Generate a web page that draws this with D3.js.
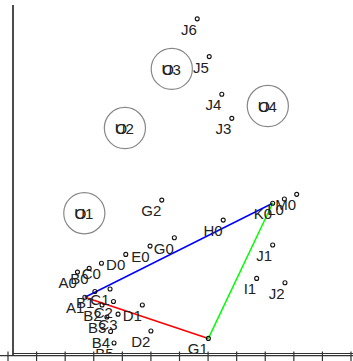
<!DOCTYPE html>
<html><head><meta charset="utf-8">
<script src="https://cdn.jsdelivr.net/npm/d3@7"></script>
<style>html,body{margin:0;padding:0;background:#fff;}svg{display:block;}</style>
</head><body>
<script>
// Point labels and coordinates (data units)
const labels = ["J6","J5","J4","J3","G2","G0","E0","D0","C0","B0","A0","H0","K0","L0","M0","J1","I1","J2","A1","B1","C1","B2","C2","B3","C3","B4","B5","D1","D2","G1"];
const xs =     [6.62,7.04,7.48,7.83,5.38,5.82,4.97,4.12,3.27,2.84,2.43,7.53,9.26,9.67,10.10,9.26,8.70,9.69,2.69,3.04,3.57,3.29,3.69,3.46,3.85,3.59,3.71,4.70,5.00,7.01];
const ys =     [11.76,10.44,9.12,8.28,5.42,4.10,3.81,3.52,3.21,3.03,2.90,4.72,5.31,5.46,5.62,3.85,2.68,2.53,2.02,2.22,2.31,1.75,1.87,1.33,1.43,0.82,0.42,1.75,0.84,0.58];
// Ringed cluster centres (two overlapping labels each)
const ringLabels = ["U1","U2","U3","U4"];
const ringAlt    = ["O1","O2","O3","O4"];
const ringX = [2.67,4.09,5.73,9.09];
const ringY = [4.96,7.94,10.01,8.71];
const ringR = 0.72;
// Triangle edges
const edges = [["A1","K0","#0000ff"],["A1","G1","#ff0000"],["G1","K0","#00ff00"]];
const xTicks = [0,1,2,3,4,5,6,7,8,9,10,11,12];

const W = 353, H = 361;
const x = d3.scaleLinear().domain([0,12]).range([8, 351]);
const y = d3.scaleLinear().domain([0,12]).range([355, 12]);
const unit = x(1) - x(0);

const svg = d3.select("body").append("svg").attr("width", W).attr("height", H);
svg.append("defs").append("clipPath").attr("id","plot")
  .append("rect").attr("x",13).attr("y",0).attr("width",W-13).attr("height",353);

const g = svg.append("g").attr("clip-path","url(#plot)");
const font = "'Liberation Sans', Arial, sans-serif";

// rings
ringLabels.forEach((l,i)=>{
  const cx = x(ringX[i]), cy = y(ringY[i]);
  g.append("circle").attr("cx",cx).attr("cy",cy).attr("r",ringR*unit)
    .attr("fill","none").attr("stroke","#888").attr("stroke-width",1.2);
  g.append("text").attr("x",cx+9).attr("y",cy+6)
    .attr("text-anchor","end").attr("font-family",font).attr("font-size",15)
    .attr("fill","#222").text(l);
  g.append("text").attr("x",cx+9).attr("y",cy+6)
    .attr("text-anchor","end").attr("font-family",font).attr("font-size",15)
    .attr("fill","#222").attr("dx",0).text(ringAlt[i].slice(0,1))
    .attr("x", cx+9 - (l.slice(1)==="1" ? 8.3 : 8.3) + 1.5);
});

// edges
const idx = l => labels.indexOf(l);
edges.forEach(([a,b,c])=>{
  g.append("line").attr("x1",x(xs[idx(a)])).attr("y1",y(ys[idx(a)]))
    .attr("x2",x(xs[idx(b)])).attr("y2",y(ys[idx(b)]))
    .attr("stroke",c).attr("stroke-width",1.5);
});

// points
labels.forEach((l,i)=>{
  g.append("circle").attr("cx",x(xs[i])).attr("cy",y(ys[i])).attr("r",2)
    .attr("fill","none").attr("stroke","#111").attr("stroke-width",1.1);
  g.append("text").attr("x",x(xs[i])-0.5).attr("y",y(ys[i])+16)
    .attr("text-anchor","end").attr("font-family",font).attr("font-size",15)
    .attr("fill","#222").text(l);
});

// axes
svg.append("line").attr("x1",13).attr("x2",13).attr("y1",5).attr("y2",356)
  .attr("stroke","#111").attr("stroke-width",1.5);
svg.append("line").attr("x1",13).attr("x2",W).attr("y1",353.5).attr("y2",353.5)
  .attr("stroke","#333").attr("stroke-width",1.2);
svg.append("line").attr("x1",0).attr("x2",W).attr("y1",355.7).attr("y2",355.7)
  .attr("stroke","#333").attr("stroke-width",1.2);
svg.selectAll("line.tick").data(xTicks).enter().append("line").attr("class","tick")
  .attr("x1",d=>x(d)).attr("x2",d=>x(d)).attr("y1",351.5).attr("y2",H)
  .attr("stroke","#333").attr("stroke-width",1.2);
</script>
</body></html>
